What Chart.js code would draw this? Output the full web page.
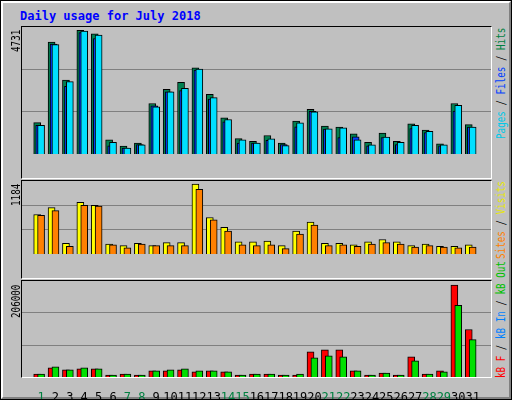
<!DOCTYPE html>
<html><head><meta charset="utf-8">
<script src="https://cdn.jsdelivr.net/npm/chart.js@4"></script>
<style>
body{margin:0;background:#fff}
#wrap{position:relative;width:510px;height:398px;background:#c0c0c0;border:1px solid #000;overflow:hidden}
#wrap:before{content:"";position:absolute;left:0;top:0;right:0;bottom:0;border-top:2px solid #fff;border-left:2px solid #fff;border-right:2px solid #808080;border-bottom:2px solid #808080}
.t{position:absolute;font-family:"DejaVu Sans Mono",monospace;font-size:12px;white-space:nowrap;line-height:12px}
.r{transform-origin:0 0;transform:rotate(-90deg) scaleX(0.77)}
.panel{position:absolute;left:20px;width:471px;border-top:1px solid #000;border-left:1px solid #000;border-right:1px solid #fff;border-bottom:1px solid #fff;box-sizing:border-box}
canvas{position:absolute}
</style></head><body>
<div id="wrap">
<div class="t" style="left:19px;top:9px;color:#0000ff;font-weight:bold">Daily usage for July 2018</div>
<div class="panel" style="top:25px;height:153px"></div>
<div class="panel" style="top:179px;height:99px"></div>
<div class="panel" style="top:279px;height:98px"></div>
<canvas id="c1" width="469" height="151" style="left:21px;top:26px"></canvas>
<canvas id="c2" width="469" height="97" style="left:21px;top:180px"></canvas>
<canvas id="c3" width="469" height="120" style="left:21px;top:280px"></canvas>
<div class="t r" style="left:9px;top:51px">4731</div>
<div class="t r" style="left:9px;top:205px">1184</div>
<div class="t r" style="left:9px;top:317px">206000</div>
<div class="t r" style="left:494px;top:138px"><span style="color:#00c8e8">Pages</span> / <span style="color:#0040ff">Files</span> / <span style="color:#008040">Hits</span></div>
<div class="t r" style="left:494px;top:258px"><span style="color:#ff8000">Sites</span> / <span style="color:#e8e800">Visits</span></div>
<div class="t r" style="left:494px;top:377px"><span style="color:#ff0000">kB F</span> / <span style="color:#0080ff">kB In</span> / <span style="color:#00c000">kB Out</span></div>
</div>
<script>
const days=[1,2,3,4,5,6,7,8,9,10,11,12,13,14,15,16,17,18,19,20,21,22,23,24,25,26,27,28,29,30,31];
const weekend=[1,7,8,14,15,21,22,28,29];
const hits=[1202,4281,2833,4731,4603,547,300,418,1931,2479,2747,3294,2285,1384,590,483,708,418,1255,1706,1073,1030,773,451,805,483,1159,912,386,1931,1127];
const files=[1094,4206,2586,4646,4421,311,225,365,1846,2382,2425,3208,2103,1234,418,418,526,365,1041,1631,955,633,655,311,633,365,976,815,311,1642,1030];
const pages=[1094,4185,2768,4700,4550,451,225,354,1803,2382,2511,3251,2157,1320,547,418,579,322,1191,1610,966,998,547,354,644,451,1094,869,354,1867,1030];
const visits=[669,785,180,875,824,167,142,180,142,193,193,1184,618,450,206,206,219,142,386,541,180,180,154,206,245,206,142,167,129,129,154];
const sites=[656,734,129,824,811,154,103,167,142,142,142,1094,579,386,154,142,154,90,335,489,142,154,129,167,193,167,116,142,116,103,116];
const kbF=[6800,20400,15800,18100,18100,4500,6800,4500,13600,13600,15800,11300,13600,11300,4500,6800,6800,4500,4500,56600,61100,61100,13600,4500,9000,4500,45300,6800,13600,206000,106400];
const kbIn=[0,0,0,0,0,0,0,0,0,0,0,0,0,0,0,0,0,0,0,0,0,0,0,0,0,0,0,0,0,0,0];
const kbOut=[6800,22600,15800,20400,18100,4500,6800,4500,13600,15800,18100,13600,13600,11300,4500,6800,6800,4500,6800,43000,47500,45300,13600,4500,9000,4500,36200,6800,11300,160700,83800];

function ds(vals,off,color,w){
  return {data:vals.map((v,i)=>({x:days[i]+off,y:v})),backgroundColor:color,borderColor:'#000',borderWidth:1,borderSkipped:'bottom',barThickness:w,grouped:false};
}
function make(id,sets,max,showX){
  new Chart(document.getElementById(id),{type:'bar',data:{datasets:sets},
    options:{animation:false,responsive:false,maintainAspectRatio:false,devicePixelRatio:1,
      layout:{padding:0},
      plugins:{legend:{display:false},tooltip:{enabled:false}},
      scales:{
        x:{type:'linear',min:0.2,max:31.75,display:showX,grid:{display:false},border:{display:false},
          afterBuildTicks:s=>{s.ticks=days.map(d=>({value:d}));},
          afterFit:s=>{s.height=24;},
          ticks:{autoSkip:false,maxRotation:0,padding:6,font:{family:'DejaVu Sans Mono',size:12},
            callback:v=>String(v),
            color:c=>weekend.includes(c.tick.value)?'#008040':'#000'}},
        y:{min:0,max:max,display:true,border:{display:false},
          afterBuildTicks:s=>{s.ticks=[{value:max/3},{value:2*max/3}];},
          afterFit:s=>{s.width=0;},
          grid:{color:'#808080',lineWidth:1,drawTicks:false},ticks:{display:false}}
      }}});
}
// first dataset is drawn on top
make('c1',[ds(pages,0,'#00e0ff',7),ds(files,-0.13,'#0040ff',7),ds(hits,-0.27,'#008050',7)],4860,false);
make('c2',[ds(sites,0,'#ff8000',7),ds(visits,-0.27,'#ffff00',7)],1235,false);
make('c3',[ds(kbOut,0,'#00e000',7),ds(kbIn,-0.13,'#0080ff',7),ds(kbF,-0.27,'#ff0000',7)],215000,true);
</script>
</body></html>
